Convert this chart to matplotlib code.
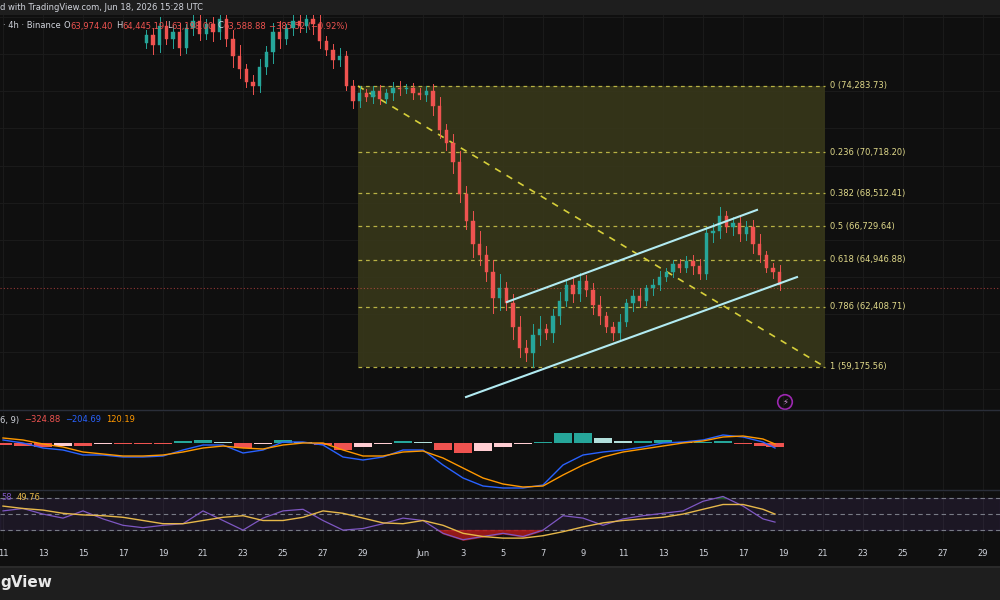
import matplotlib
matplotlib.use("Agg")
import matplotlib.pyplot as plt
from matplotlib.patches import Rectangle

# ---------------- data ----------------
date_labels = ["11","13","15","17","19","21","23","25","27","29","Jun","3","5","7","9","11","13","15","17","19","21","23","25","27","29"]
date_days = [0,2,4,6,8,10,12,14,16,18,21,23,25,27,29,31,33,35,37,39,41,43,45,47,49]

first_open = 76600
closes = [
 77000,76500,77500, 76800,77200,76300, 77400,77800,77100, 77600,77200,77900,
 76800,75900,75200, 74500,74300,75300, 76100,77200,76800, 77400,77800,77500,
 77900,77600,76700, 76200,75700,75900, 74300,73500,73900, 73700,74000,73600,
 73900,74200,74100, 74200,73900,73800, 74000,73200,71900, 71200,70200,68500,
 67000,65800,65200, 64300,62900,63400, 62600,61300,60200, 59900,60900,61200,
 61000,61900,62700, 63600,63100,63800, 63300,62500,61900, 61300,61000,61600,
 62600,63000,62700, 63400,63600,64000, 64300,64700,64500, 64900,64600,64200,
 66400,66500,67300, 66700,66900,66300, 66700,65800,65200, 64500,64300,63600]
day_wicks = [500,450,400,500,600,450,600,400,500,450,400,350,350,300,500,600,
             700,800,600,700,500,450,500,400,400,350,300,400,500,450,500,350]

fib_ratios = ["0","0.236","0.382","0.5","0.618","0.786","1"]
fib_prices = [74283.73,70718.20,68512.41,66729.64,64946.88,62408.71,59175.56]
fib_days = [17.75, 41.1]

chan_upper_days = [25.2, 37.7]; chan_upper_prices = [62670, 67620]
chan_lower_days = [23.15, 39.7]; chan_lower_prices = [57560, 64010]
last_price = 63420

ind_days = list(range(39)) + [38.6]
macd = [75,0,-125,-175,-300,-300,-350,-350,-325,-175,-50,-50,-250,-175,25,25,-50,-350,-425,-350,
        -175,-175,-550,-875,-1075,-1125,-1125,-1050,-550,-300,-225,-175,-100,0,25,75,200,150,25,-125]
signal = [125,75,-25,-100,-225,-275,-325,-325,-300,-225,-125,-75,-125,-150,-50,0,0,-175,-325,-325,
          -225,-200,-375,-625,-875,-1025,-1100,-1075,-800,-550,-350,-225,-150,-75,0,50,150,175,100,-25]
rsi = [54,57,50,45,54,44,36,33,36,38,54,42,30,45,54,56,42,30,32,38,
       45,42,26,18,22,26,22,30,48,45,36,44,48,51,54,66,72,60,44,40]
rsi_ma = [60,57,55,51,49,48,46,42,38,38,42,46,48,42,42,46,54,51,45,39,
          38,42,36,26,22,20,20,23,28,34,39,42,44,46,50,56,62,62,56,50]

# ---------------- style ----------------
BG = "#0f0f0f"; GRID = "#1a1a1a"; TXT = "#d1d4dc"
GREEN = "#26a69a"; RED = "#ef5350"
FS = 6.0

fig = plt.figure(figsize=(10, 6), dpi=100, facecolor=BG)
renderer = fig.canvas.get_renderer()

def seq_text(x_px, y_px, parts, gap=3):
    """place coloured text parts one after another (pixel coords)"""
    x = x_px
    for s, c, extra in parts:
        x += extra
        tx = fig.text(x / 1000, 1 - y_px / 600, s, color=c, fontsize=FS, va="center", zorder=11)
        x += tx.get_window_extent(renderer).width + gap

def pane(bottom, height):
    ax = fig.add_axes([0, bottom, 1, height], facecolor=BG)
    for s in ax.spines.values():
        s.set_visible(False)
    ax.set_xlim(-0.15, 49.85)
    ax.tick_params(left=False, labelleft=False, bottom=False, labelbottom=False)
    for d in date_days:
        ax.axvline(d, color=GRID, lw=0.8, zorder=0)
    return ax

# price pane
ax = pane(1 - 410/600, 395/600)
ax.set_ylim(56862, 78101)
for p in range(58000, 78001, 2000):
    ax.axhline(p, color=GRID, lw=0.8, zorder=0)

fx0, fx1 = fib_days
ax.add_patch(Rectangle((fx0, fib_prices[-1]), fx1 - fx0, fib_prices[0] - fib_prices[-1],
                       facecolor="#38381a", alpha=0.9, edgecolor="none", zorder=1))
for r, p in zip(fib_ratios, fib_prices):
    ax.plot([fx0, fx1], [p, p], ls=(0, (3, 3)), color="#b8b244", lw=0.9, zorder=2)
    ax.text(fx1 + 0.25, p, f"{r} ({p:,.2f})", color="#e0d98a", fontsize=FS,
            va="center", ha="left", zorder=5)
ax.plot([fx0, fx1], [fib_prices[0], fib_prices[-1]], ls=(0, (4, 4)), color="#d6cf3a", lw=1.2, zorder=3)

ax.axhline(last_price, color="#ef5350", lw=0.8, ls=(0, (1, 2)), alpha=0.6, zorder=2)

opens = [first_open] + closes[:-1]
for i, (o, c) in enumerate(zip(opens, closes)):
    x = 7 + i / 3 + 1 / 6
    w = day_wicks[i // 3]
    col = GREEN if c >= o else RED
    hi = max(o, c) + w * (0.6 + 0.4 * ((i * 7) % 3) / 2)
    lo = min(o, c) - w * (0.6 + 0.4 * ((i * 5) % 3) / 2)
    ax.plot([x, x], [lo, hi], color=col, lw=0.7, zorder=4)
    ax.add_patch(Rectangle((x - 0.08, min(o, c)), 0.16, max(abs(c - o), 30),
                           facecolor=col, edgecolor=col, lw=0.3, zorder=4))

ax.plot(chan_upper_days, chan_upper_prices, color="#b2ebf2", lw=1.5, zorder=6)
ax.plot(chan_lower_days, chan_lower_prices, color="#b2ebf2", lw=1.5, zorder=6)

iy = 56862 + (410 - 402) * 53.77
ax.scatter([39.1], [iy], s=110, facecolor="none", edgecolor="#9c27b0", lw=1.2, zorder=6)
ax.text(39.1, iy, "⚡", color="#ce93d8", fontsize=6, ha="center", va="center", zorder=7)

seq_text(3, 26, [("· 4h · Binance", TXT, 0), ("O", TXT, 0), ("63,974.40", RED, -3),
                 ("H", TXT, 0), ("64,445.19", RED, -3), ("L", TXT, 0), ("63,198.00", RED, -3),
                 ("C", TXT, 0), ("63,588.88", RED, -3), ("−385.52 (−0.92%)", RED, 0)])

# MACD pane
am = pane(1 - 490/600, 78/600)
am.set_ylim(-1175, 775)
hist = [m - s for m, s in zip(macd, signal)]
prev = 0
for d, h in zip(ind_days, hist):
    if h >= 0:
        col = GREEN if h >= prev else "#b2dfdb"
    else:
        col = RED if h <= prev else "#ffcdd2"
    am.bar(d, h, width=0.9, color=col, zorder=2)
    prev = h
am.plot(ind_days, macd, color="#2962ff", lw=1.0, zorder=3)
am.plot(ind_days, signal, color="#ff9800", lw=1.0, zorder=3)
seq_text(0, 420, [("6, 9)", TXT, 0), ("−324.88", RED, 2), ("−204.69", "#2962ff", 2), ("120.19", "#ff9800", 2)])

# RSI pane
ar = pane(1 - 541/600, 49/600)
ar.set_ylim(16.4, 77.6)
ar.axhspan(30, 70, color="#7e57c2", alpha=0.12, zorder=1)
for lvl in (70, 50, 30):
    ar.axhline(lvl, color="#787b86", lw=0.8, ls=(0, (4, 3)), zorder=2)
ar.fill_between(ind_days, rsi, 30, where=[r < 30 for r in rsi], interpolate=True, color="#b71c1c", alpha=0.8, zorder=2)
ar.fill_between(ind_days, rsi, 70, where=[r > 70 for r in rsi], interpolate=True, color="#1b5e20", alpha=0.8, zorder=2)
ar.plot(ind_days, rsi, color="#7e57c2", lw=0.9, zorder=3)
ar.plot(ind_days, rsi_ma, color="#e6b84a", lw=1.0, zorder=3)
seq_text(1, 498, [("58", "#7e57c2", 0), ("49.76", "#e6b84a", 2)])

for y in (410, 490):
    fig.add_artist(plt.Line2D([0, 1], [1 - y/600, 1 - y/600], color="#2a2e39", lw=1))

ar.set_xticks(date_days)
ar.set_xticklabels(date_labels)
ar.tick_params(labelbottom=True, colors=TXT, labelsize=FS, pad=6, length=0)

fig.add_artist(Rectangle((0, 1 - 15/600), 1, 15/600, transform=fig.transFigure, facecolor="#1e1e1e", zorder=10))
fig.text(0.0, 1 - 7/600, "d with TradingView.com, Jun 18, 2026 15:28 UTC", color=TXT, fontsize=FS, va="center", zorder=11)
fig.add_artist(Rectangle((0, 0), 1, 32/600, transform=fig.transFigure, facecolor="#1e1e1e", zorder=10))
fig.add_artist(Rectangle((0, 32/600), 1, 2/600, transform=fig.transFigure, facecolor="#2a2a2a", zorder=10))
fig.text(0.0, 1 - 582/600, "gView", color="#e8e8e8", fontsize=11, fontweight="bold", va="center", zorder=11)

fig.savefig("out.png", dpi=100, facecolor=BG)
